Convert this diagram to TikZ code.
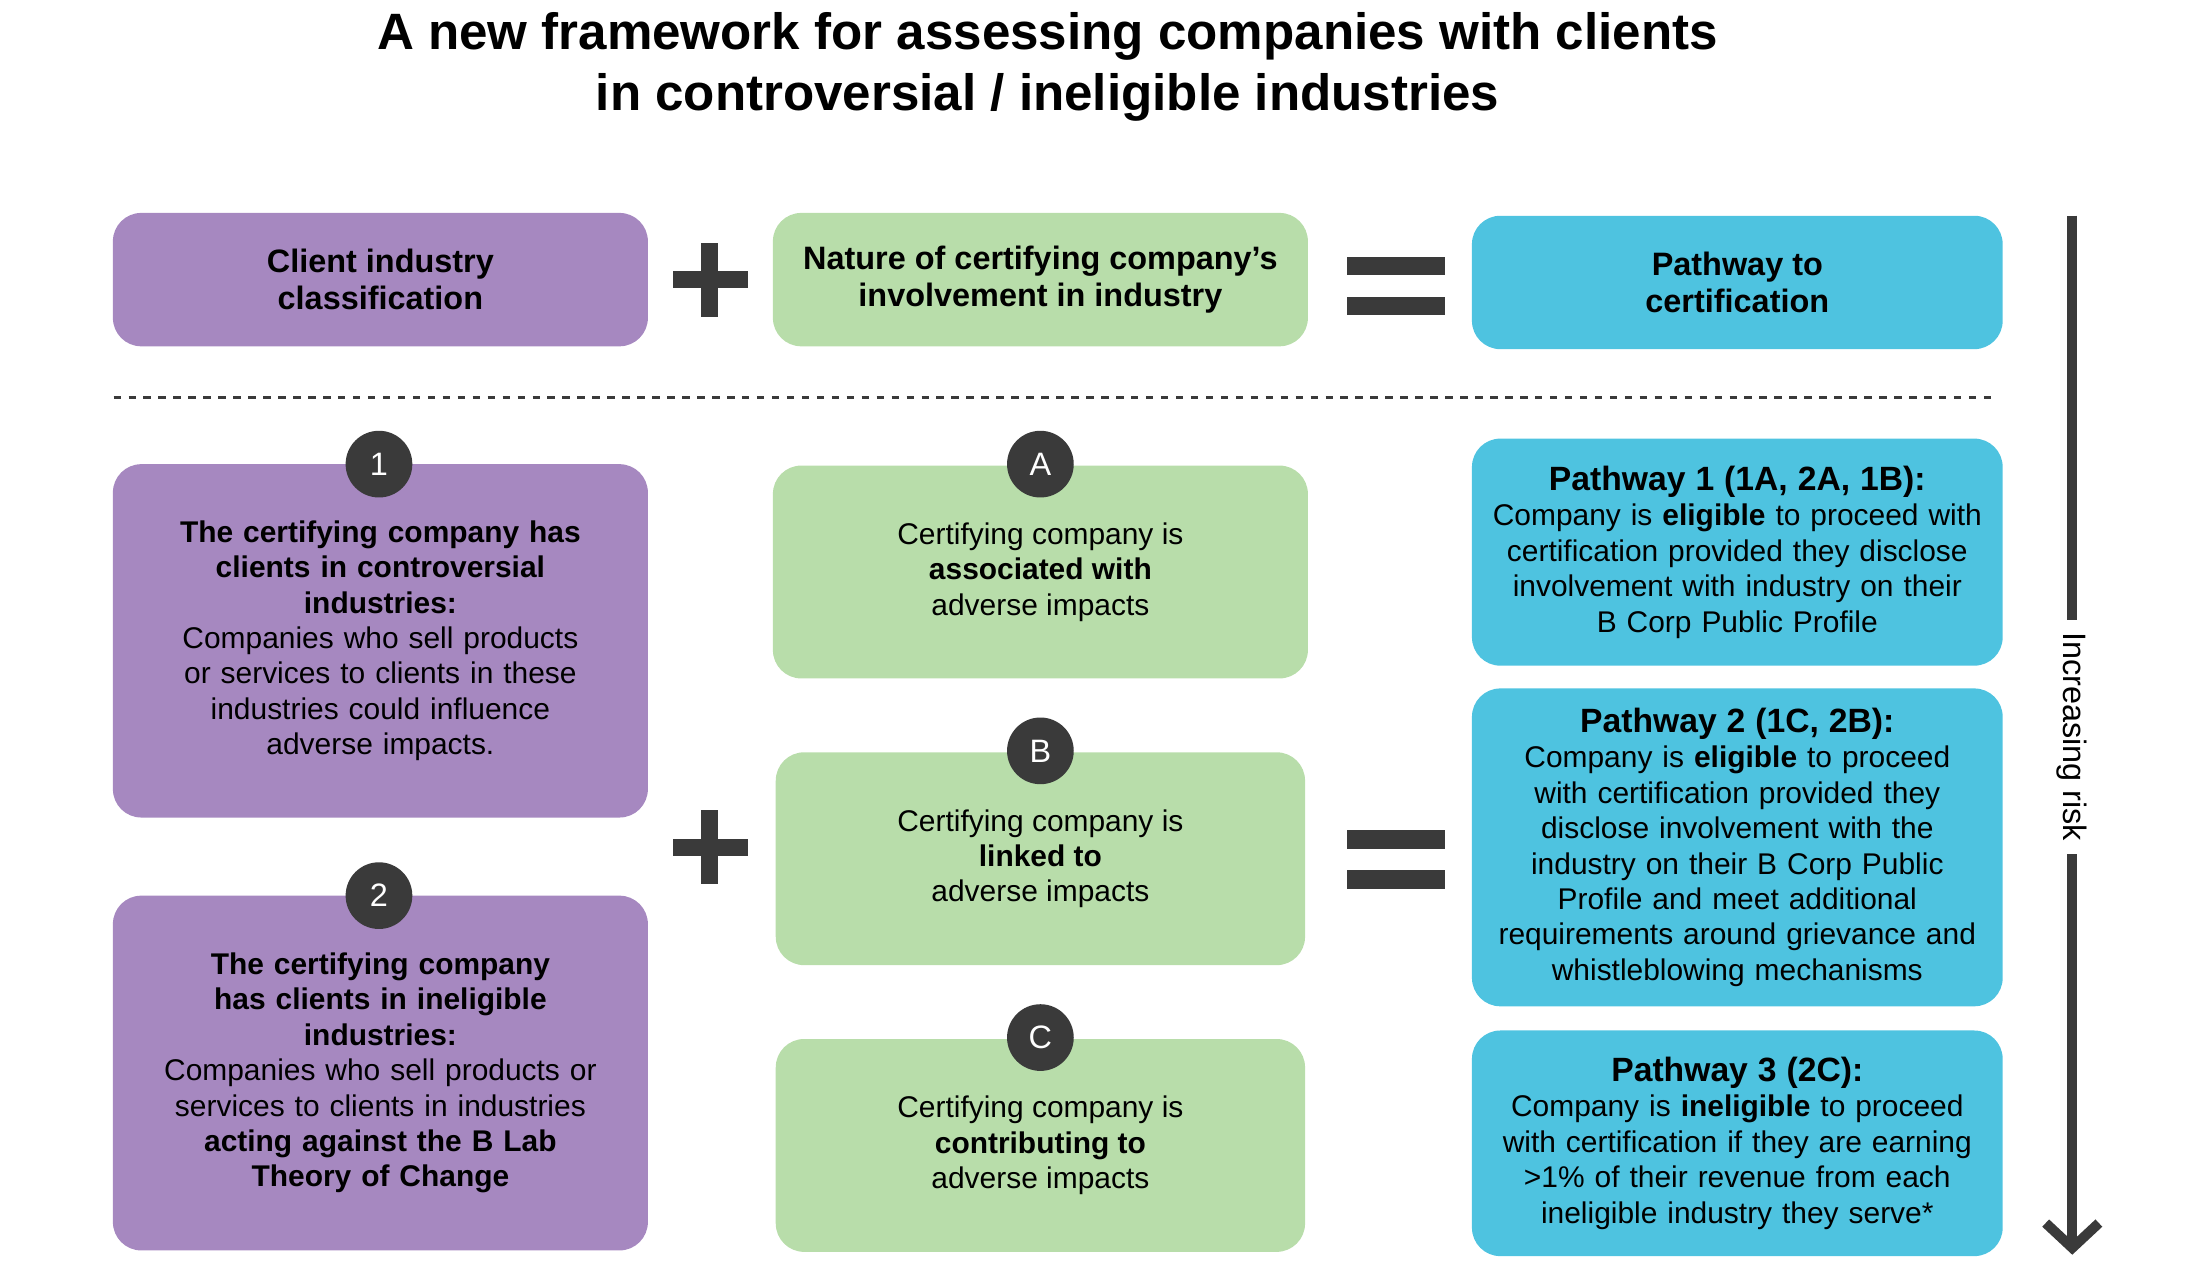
\documentclass[tikz,border=0pt]{standalone}
\usepackage{fontspec}
\setmainfont{Liberation Sans}
\usetikzlibrary{positioning,arrows.meta}
\definecolor{catpurple}{HTML}{A688C0}
\definecolor{natgreen}{HTML}{B8DDAA}
\definecolor{pathblue}{HTML}{4EC3E0}
\definecolor{darkgrey}{HTML}{3A3A3A}
\begin{document}
\begin{tikzpicture}[x=0.02cm, y=-0.02cm,
    box/.style={rectangle, rounded corners=0.4cm, draw=none, align=center, inner sep=2pt},
    category/.style={box, fill=catpurple, minimum width=7.54cm},
    nature/.style={box, fill=natgreen, minimum width=7.5cm},
    pathway/.style={box, fill=pathblue, minimum width=7.48cm},
    headtext/.style={font=\fontsize{13}{14.8}\selectfont\bfseries},
    bodytext/.style={font=\fontsize{12}{14.2}\selectfont},
    badge/.style={circle, fill=darkgrey, text=white, minimum size=0.94cm, inner sep=0pt, font=\fontsize{13}{14}\selectfont},
    bar/.style={fill=darkgrey}]

\useasboundingbox (0,0) rectangle (1550,899);

% Title
\node[font=\fontsize{20.5}{24.5}\selectfont\bfseries, align=center] (title) at (738,47)
  {A new framework for assessing companies with clients\\in controversial / ineligible industries};

% Header row
\node[category, headtext, minimum height=1.88cm] (headcat) at (268,197) {Client industry\\classification};
\node[nature, headtext, minimum height=1.88cm, minimum width=7.54cm] (headnat) at (733,197) {Nature of certifying company’s\\involvement in industry};
\node[pathway, headtext, minimum height=1.88cm] (headpath) at (1224,199) {Pathway to\\certification};

\fill[bar] (474,191) rectangle (527,203);
\fill[bar] (494,171) rectangle (506,223);
\fill[bar] (949,181) rectangle (1018,194);
\fill[bar] (949,209) rectangle (1018,222);

\coordinate (dashl) at (80,280);
\coordinate (dashr) at (1407,280);
\draw[dashed, darkgrey, line width=0.9pt] (dashl) -- (dashr);

% Client industry categories
\node[category, bodytext, minimum height=4.98cm, text width=6.4cm] (cat1) at (268,451.5)
  {\textbf{The certifying company has}\\\textbf{clients in controversial}\\\textbf{industries:}\\Companies who sell products\\or services to clients in these\\industries could influence\\adverse impacts.};
\node[category, bodytext, minimum height=5cm, text width=6.8cm] (cat2) at (268,756)
  {\textbf{The certifying company}\\\textbf{has clients in ineligible}\\\textbf{industries:}\\Companies who sell products or\\services to clients in industries\\\textbf{acting against the B Lab}\\\textbf{Theory of Change}};
\node[badge] (badge1) at (267,327) {1};
\node[badge] (badge2) at (267,631) {2};

% Nature of involvement
\node[nature, bodytext, minimum height=3cm, minimum width=7.54cm] (natA) at (733,403) {Certifying company is\\\textbf{associated with}\\adverse impacts};
\node[nature, bodytext, minimum height=3cm, minimum width=7.46cm] (natB) at (733,605) {Certifying company is\\\textbf{linked to}\\adverse impacts};
\node[nature, bodytext, minimum height=3cm, minimum width=7.46cm] (natC) at (733,807) {Certifying company is\\\textbf{contributing to}\\adverse impacts};
\node[badge] (badgeA) at (733,327) {A};
\node[badge] (badgeB) at (733,529) {B};
\node[badge] (badgeC) at (733,731) {C};

\fill[bar] (474,591) rectangle (527,603);
\fill[bar] (494,571) rectangle (506,623);
\fill[bar] (949,585) rectangle (1018,598);
\fill[bar] (949,613) rectangle (1018,626);

% Pathways
\node[pathway, bodytext, minimum height=3.2cm, text width=7cm] (path1) at (1224,389)
  {{\fontsize{13.5}{16}\selectfont\bfseries Pathway 1 (1A, 2A, 1B):}\\Company is \textbf{eligible} to proceed with\\certification provided they disclose\\involvement with industry on their\\B Corp Public Profile};
\node[pathway, bodytext, minimum height=4.48cm, text width=7cm] (path2) at (1224,597)
  {{\fontsize{13.5}{16}\selectfont\bfseries Pathway 2 (1C, 2B):}\\Company is \textbf{eligible} to proceed\\with certification provided they\\disclose involvement with the\\industry on their B Corp Public\\Profile and meet additional\\requirements around grievance and\\whistleblowing mechanisms};
\node[pathway, bodytext, minimum height=3.18cm, text width=7cm] (path3) at (1224,805.5)
  {{\fontsize{13.5}{16}\selectfont\bfseries Pathway 3 (2C):}\\Company is \textbf{ineligible} to proceed\\with certification if they are earning\\>1\% of their revenue from each\\ineligible industry they serve*};

% Risk arrow
\coordinate (risktop) at (1460,152);
\coordinate (riskbot) at (1460,884);
\draw[darkgrey, line width=4pt, -{Straight Barb[length=0.35cm, width=0.75cm, line width=4pt]}] (risktop) -- (riskbot);
\node[fill=white, rotate=-90, bodytext, font=\fontsize{13}{14}\selectfont, inner sep=5pt] (risk) at (1460,519) {Increasing risk};

\end{tikzpicture}
\end{document}
